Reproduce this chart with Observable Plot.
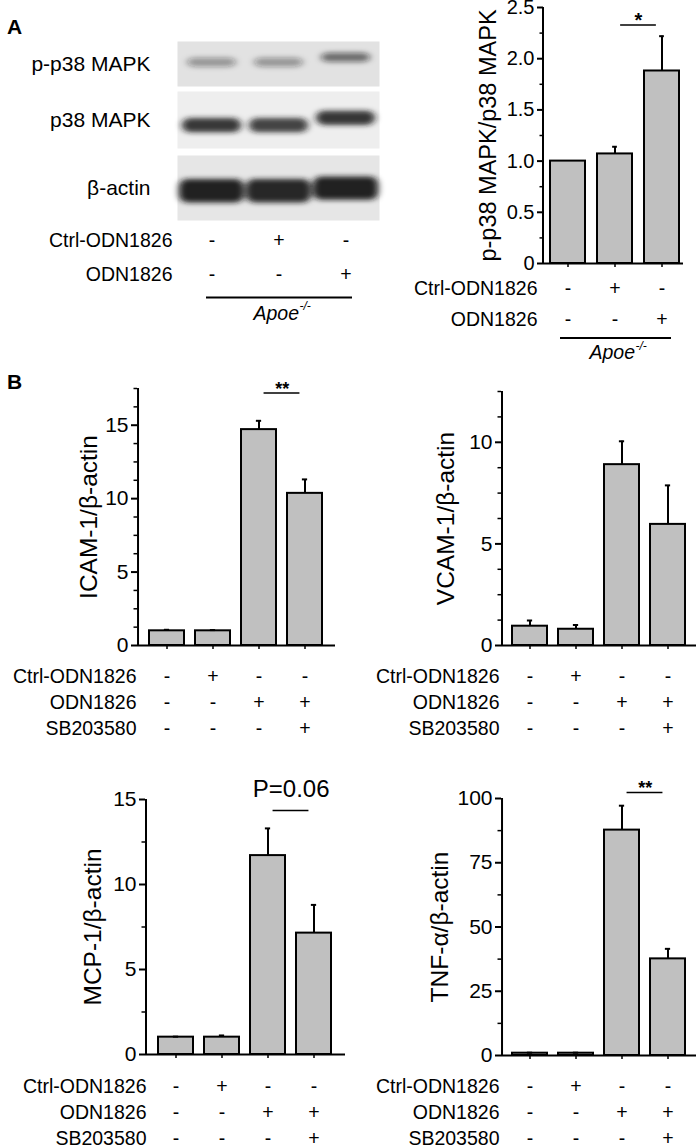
<!DOCTYPE html>
<html><head><meta charset="utf-8">
<script src="https://cdn.jsdelivr.net/npm/d3@7"></script>
<script src="https://cdn.jsdelivr.net/npm/@observablehq/plot@0.6"></script>
<style>
html,body{margin:0;padding:0;background:#fff;}
#fig{position:relative;width:698px;height:1148px;overflow:hidden;background:#fff;font-family:"Liberation Sans",Arial,Helvetica,sans-serif;}
.plabel{position:absolute;font-weight:bold;font-size:21px;line-height:21px;color:#000;}
</style></head><body><div id="fig"></div>
<script>
// ---------------- DATA ----------------
const blotProteins = ["p-p38 MAPK", "p38 MAPK", "β-actin"];
const blotLanes = ["lane1", "lane2", "lane3"];
const blotIntensity = [[0.38, 0.38, 0.58], [0.85, 0.8, 0.86], [0.95, 0.92, 0.95]];
const blotMobility = [[0.47, 0.47, 0.36], [0.6, 0.6, 0.47], [0.55, 0.55, 0.51]];

const aRows = ["Ctrl-ODN1826", "ODN1826"];
const aSigns = [["-", "+", "-"], ["-", "-", "+"]];
const genotype = "Apoe";
const genotypeSup = "-/-";

const aConds = ["ctrl", "ctrlODN", "ODN"];
const mapkLabel = "p-p38 MAPK/p38 MAPK";
const mapkValues = [1.0, 1.07, 1.88];
const mapkErrors = [0, 0.07, 0.34];
const mapkTicks = [0, 0.5, 1, 1.5, 2, 2.5];
const mapkSig = {from: 1, to: 2, y: 2.33, text: "*"};

const bConds = ["ctrl", "ctrlODN", "ODN", "ODN+SB"];
const bRows = ["Ctrl-ODN1826", "ODN1826", "SB203580"];
const bSigns = [["-", "+", "-", "-"], ["-", "-", "+", "+"], ["-", "-", "-", "+"]];

const icamLabel = "ICAM-1/β-actin";
const icamValues = [1.0, 1.0, 14.7, 10.36];
const icamErrors = [0.07, 0.05, 0.6, 0.95];
const icamTicks = [0, 5, 10, 15];
const icamSig = {from: 2, to: 3, y: 17.2, text: "**"};

const vcamLabel = "VCAM-1/β-actin";
const vcamValues = [0.95, 0.8, 8.9, 5.96];
const vcamErrors = [0.28, 0.21, 1.15, 1.92];
const vcamTicks = [0, 5, 10];

const mcpLabel = "MCP-1/β-actin";
const mcpValues = [1.02, 1.02, 11.7, 7.14];
const mcpErrors = [0.03, 0.1, 1.6, 1.66];
const mcpTicks = [0, 5, 10, 15];
const mcpSig = {from: 2, to: 3, y: 14.35, text: "P=0.06"};

const tnfLabel = "TNF-α/β-actin";
const tnfValues = [0.9, 0.9, 87.7, 37.6];
const tnfErrors = [0.2, 0.2, 9.5, 3.9];
const tnfTicks = [0, 25, 50, 75, 100];
const tnfSig = {from: 2, to: 3, y: 102.3, text: "**"};

// ---------------- DRAWING ----------------
const FONT = '"Liberation Sans", Arial, Helvetica, sans-serif';
const FS = 19.5;
const BAR_FILL = "#c0c0c0";
const PI = 0.25;
const fig = document.getElementById("fig");
const baseStyle = {background: "transparent", fontFamily: FONT, color: "black", overflow: "visible"};

function place(svg, left, top) {
  svg.style.position = "absolute";
  svg.style.left = left + "px";
  svg.style.top = top + "px";
  svg.style.maxWidth = "none";
  fig.appendChild(svg);
  return svg;
}

function barChart(c) {
  const conds = c.conds;
  const data = c.values.map((v, i) => ({cond: conds[i], value: v, err: c.errors[i]}));
  const withErr = data.filter(d => d.err > 0);
  const [r0, r1] = c.xRange;
  const step = (r1 - r0) / conds.length;
  const bw = step * (1 - PI);
  const capIn = bw / 2 - 2.5;
  const firstCenter = r0 + step / 2;
  const minor = d3.range(0, c.yMax + 1e-9, c.minorStep).filter(t => !c.major.some(m => Math.abs(m - t) < 1e-9));
  const marks = [
    Plot.barY(data, {x: "cond", y: "value", fill: BAR_FILL, stroke: "black", strokeWidth: 2}),
    Plot.ruleY([0], {stroke: "black", strokeWidth: 2}),
    // vertical y-axis line, drawn at the left edge of the frame
    Plot.ruleX([conds[0]], {x: d => d, y1: 0, y2: c.yMax, dx: c.ml - firstCenter, stroke: "black", strokeWidth: 2}),
    Plot.ruleX(withErr, {x: "cond", y1: "value", y2: d => d.value + d.err, stroke: "black", strokeWidth: 2}),
    Plot.tickY(withErr, {x: "cond", y: d => d.value + d.err, stroke: "black", strokeWidth: 2, insetLeft: capIn, insetRight: capIn}),
    Plot.axisY(c.major, {tickSize: 6, tickPadding: 3, tickFormat: c.fmt, fontSize: c.tickFont || 21, strokeWidth: 2, label: null}),
    Plot.axisY(minor, {tickSize: 3.5, tickFormat: () => "", strokeWidth: 1.5, label: null}),
    Plot.axisX(conds, {tickSize: 4, tickFormat: () => "", strokeWidth: 1.5, label: null}),
    Plot.text([c.label], {text: d => d, frameAnchor: "left", textAnchor: "middle", dx: c.labelDx, rotate: -90, fontSize: c.labelFont || 24.5})
  ];
  if (c.sig) {
    const s = c.sig;
    const sd = [{y: s.y, from: conds[s.from], to: conds[s.to], text: s.text}];
    const inset = (step + bw - 36) / 2;
    marks.push(Plot.ruleY(sd, {y: "y", x1: "from", x2: "to", insetLeft: inset, insetRight: inset, stroke: "black", strokeWidth: 1.5}));
    marks.push(Plot.text(sd, {x: "from", y: "y", text: "text", dx: step / 2, dy: c.sigDy, fontSize: c.sigSize, fontWeight: c.sigBold ? "bold" : "normal"}));
  }
  const svg = Plot.plot({
    width: c.width, height: c.height,
    marginLeft: c.ml, marginRight: c.mr, marginTop: c.mt, marginBottom: c.mb,
    style: baseStyle,
    x: {type: "band", domain: conds, range: c.xRange, paddingInner: PI, paddingOuter: PI / 2, axis: null, label: null},
    y: {domain: [0, c.yMax], axis: null, label: null},
    marks
  });
  return place(svg, c.left, c.top);
}

function signTable(c) {
  const cells = c.rows.flatMap((r, ri) => c.conds.map((cd, ci) => ({row: r, cond: cd, sign: c.signs[ri][ci]})));
  const last = c.rows[c.rows.length - 1];
  const marks = [
    Plot.text(c.rows, {y: d => d, text: d => d, frameAnchor: "left", textAnchor: "end", dx: c.labelDx, fontSize: FS}),
    Plot.text(cells, {x: "cond", y: "row", text: "sign", fontSize: FS})
  ];
  if (c.geno) {
    const g = c.geno;
    marks.push(Plot.ruleY([0], {y: () => last, x1: () => c.conds[0], x2: () => c.conds[c.conds.length - 1], dy: g.lineDy, insetLeft: g.inL, insetRight: g.inR, stroke: "black", strokeWidth: 2}));
    marks.push(Plot.text([0], {x: () => c.conds[1], y: () => last, text: () => genotype, textAnchor: "end", dx: 20, dy: g.textDy, fontSize: FS, fontStyle: "italic"}));
    marks.push(Plot.text([0], {x: () => c.conds[1], y: () => last, text: () => genotypeSup, textAnchor: "start", dx: 20.5, dy: g.textDy - 7, fontSize: 12, fontStyle: "italic"}));
  }
  const svg = Plot.plot({
    width: c.width, height: c.height,
    marginLeft: c.ml, marginRight: c.mr, marginTop: 0, marginBottom: 0,
    style: baseStyle,
    x: {type: "band", domain: c.conds, range: c.xRange, paddingInner: c.pi, paddingOuter: c.pi / 2, axis: null, label: null},
    y: {type: "band", domain: c.rows, range: c.yRange, padding: 0, axis: null, label: null},
    marks
  });
  return place(svg, c.left, c.top);
}

// ---- Panel A: western blot strips ----
const strips = [
  {top: 41, h: 45, bg: "#e2e2e2", thick: 0.2, inset: 9},
  {top: 91, h: 57, bg: "#eeeeee", thick: 0.25, inset: 4},
  {top: 155, h: 65, bg: "#e6e6e6", thick: 0.36, inset: 1}
];
strips.forEach((s, i) => {
  const bands = blotLanes.map((l, j) => ({lane: l, intensity: blotIntensity[i][j], mob: blotMobility[i][j]}));
  const svg = Plot.plot({
    width: 400, height: s.h, marginLeft: 177, marginRight: 21, marginTop: 0, marginBottom: 0,
    style: baseStyle,
    x: {type: "band", domain: blotLanes, padding: 0, axis: null},
    y: {domain: [0, 1], reverse: true, axis: null},
    marks: [
      Plot.frame({fill: s.bg, stroke: "none"}),
      Plot.barY(bands, {x: "lane", y1: d => d.mob - s.thick / 2, y2: d => d.mob + s.thick / 2, fill: "#151515", fillOpacity: "intensity", insetLeft: s.inset, insetRight: s.inset, rx: 8}),
      Plot.text([blotProteins[i]], {text: d => d, frameAnchor: "left", dx: -27, textAnchor: "end", fontSize: 21})
    ]
  });
  const ns = "http://www.w3.org/2000/svg";
  const defs = document.createElementNS(ns, "defs");
  const f = document.createElementNS(ns, "filter");
  const fid = "blur" + i;
  f.setAttribute("id", fid);
  f.setAttribute("x", "-30%"); f.setAttribute("y", "-150%");
  f.setAttribute("width", "160%"); f.setAttribute("height", "400%");
  const gb = document.createElementNS(ns, "feGaussianBlur");
  gb.setAttribute("stdDeviation", "3.5 2.6");
  f.appendChild(gb); defs.appendChild(f); svg.insertBefore(defs, svg.firstChild);
  svg.querySelectorAll('g[aria-label="bar"]').forEach(g => g.setAttribute("filter", `url(#${fid})`));
  place(svg, 0, s.top);
});

signTable({left: 0, top: 220, width: 400, height: 110, ml: 177, mr: 21, conds: blotLanes, xRange: [177, 379], pi: 0,
  rows: aRows, signs: aSigns, yRange: [3, 71], labelDx: -5,
  geno: {lineDy: 23, textDy: 39, inL: 28, inR: 27}});

// ---- Panel A: bar chart ----
barChart({left: 400, top: 0, width: 298, height: 270, ml: 143, mr: 15, mt: 7, mb: 7,
  conds: aConds, xRange: [144.5, 285.5], values: mapkValues, errors: mapkErrors,
  yMax: 2.5, major: mapkTicks, minorStep: 0.25, fmt: d => d === 0 ? "0" : d.toFixed(1), tickFont: 20,
  label: mapkLabel, labelDx: -55, labelFont: 23.5, sig: mapkSig, sigDy: -4, sigSize: 20, sigBold: true});
signTable({left: 400, top: 270, width: 298, height: 90, ml: 143, mr: 15, conds: aConds, xRange: [144.5, 285.5], pi: PI,
  rows: aRows, signs: aSigns, yRange: [2.5, 64.5], labelDx: -6,
  geno: {lineDy: 18, textDy: 33, inL: 10, inR: 8}});

// ---- Panel B ----
const fmtInt = d3.format("d");
barChart({left: 0, top: 360, width: 349, height: 300, ml: 137, mr: 14, mt: 28, mb: 15,
  conds: bConds, xRange: [142.8, 328.2], values: icamValues, errors: icamErrors,
  yMax: 17.5, major: icamTicks, minorStep: 1.25, fmt: fmtInt,
  label: icamLabel, labelDx: -48, sig: icamSig, sigDy: -4, sigSize: 18, sigBold: true});
signTable({left: 0, top: 660, width: 349, height: 88, ml: 137, mr: 14, conds: bConds, xRange: [142.8, 328.2], pi: PI,
  rows: bRows, signs: bSigns, yRange: [3, 81], labelDx: -1});

barChart({left: 349, top: 360, width: 349, height: 300, ml: 152, mr: 2, mt: 31, mb: 15,
  conds: bConds, xRange: [156.8, 342.2], values: vcamValues, errors: vcamErrors,
  yMax: 12.5, major: vcamTicks, minorStep: 1.25, fmt: fmtInt,
  label: vcamLabel, labelDx: -55});
signTable({left: 349, top: 660, width: 349, height: 88, ml: 152, mr: 2, conds: bConds, xRange: [156.8, 342.2], pi: PI,
  rows: bRows, signs: bSigns, yRange: [3, 81], labelDx: -2});

barChart({left: 0, top: 760, width: 349, height: 310, ml: 145, mr: 4, mt: 39, mb: 16,
  conds: bConds, xRange: [151.8, 337.2], values: mcpValues, errors: mcpErrors,
  yMax: 15, major: mcpTicks, minorStep: 2.5, fmt: fmtInt,
  label: mcpLabel, labelDx: -52, sig: mcpSig, sigDy: -21, sigSize: 24, sigBold: false});
signTable({left: 0, top: 1070, width: 349, height: 78, ml: 145, mr: 4, conds: bConds, xRange: [151.8, 337.2], pi: PI,
  rows: bRows, signs: bSigns, yRange: [3, 81], labelDx: 1});

barChart({left: 349, top: 760, width: 349, height: 310, ml: 152, mr: 2, mt: 38, mb: 15,
  conds: bConds, xRange: [156.8, 342.2], values: tnfValues, errors: tnfErrors,
  yMax: 100, major: tnfTicks, minorStep: 12.5, fmt: fmtInt,
  label: tnfLabel, labelDx: -61, sig: tnfSig, sigDy: -4, sigSize: 18, sigBold: true});
signTable({left: 349, top: 1070, width: 349, height: 78, ml: 152, mr: 2, conds: bConds, xRange: [156.8, 342.2], pi: PI,
  rows: bRows, signs: bSigns, yRange: [3, 81], labelDx: -2});

// panel letters
[["A", 7, 16], ["B", 7, 371]].forEach(([t, x, y]) => {
  const d = document.createElement("div");
  d.className = "plabel"; d.textContent = t;
  d.style.left = x + "px"; d.style.top = y + "px";
  fig.appendChild(d);
});
</script></body></html>
